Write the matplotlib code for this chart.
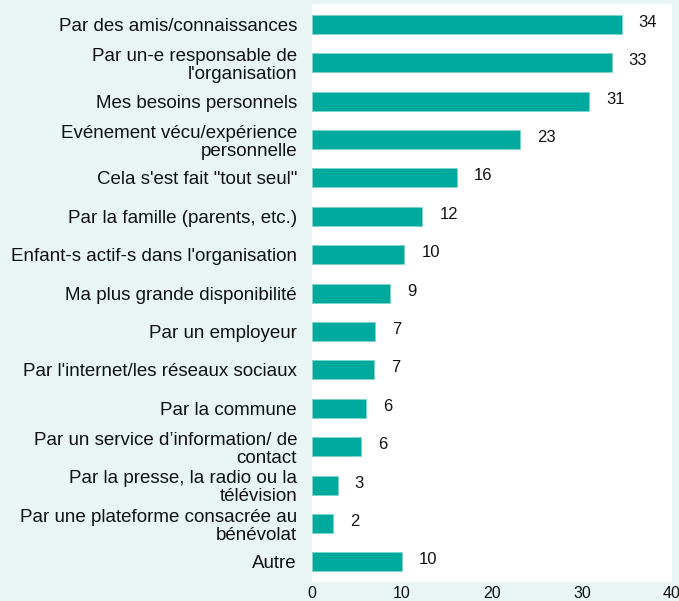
import matplotlib
matplotlib.use("Agg")
import matplotlib.pyplot as plt

# Données (pourcentages)
categories = [
    "Par des amis/connaissances",
    "Par un-e responsable de\nl'organisation",
    "Mes besoins personnels",
    "Evénement vécu/expérience\npersonnelle",
    "Cela s'est fait \"tout seul\"",
    "Par la famille (parents, etc.)",
    "Enfant-s actif-s dans l'organisation",
    "Ma plus grande disponibilité",
    "Par un employeur",
    "Par l'internet/les réseaux sociaux",
    "Par la commune",
    "Par un service d’information/ de\ncontact",
    "Par la presse, la radio ou la\ntélévision",
    "Par une plateforme consacrée au\nbénévolat",
    "Autre",
]
values = [34.4, 33.3, 30.8, 23.1, 16.1, 12.3, 10.3, 8.7, 7.0, 6.9, 6.0, 5.5, 2.9, 2.4, 10.0]
value_labels = ["34", "33", "31", "23", "16", "12", "10", "9", "7", "7", "6", "6", "3", "2", "10"]
x_ticks = [0, 10, 20, 30, 40]

plt.rcParams["font.family"] = ["Liberation Sans", "DejaVu Sans"]

bg = "#e9f5f5"
bar_color = "#00a99d"

fig = plt.figure(figsize=(6.79, 6.01), dpi=100, facecolor=bg)
ax = fig.add_axes([0.459, 0.0324, 0.5307, 0.9609])
ax.set_facecolor("white")

pos = list(range(len(categories)))
ax.barh(pos, values, height=0.495, color=bar_color, edgecolor="#7fd4cd", linewidth=0.6)

# Étiquettes de valeurs
for p, v, lab in zip(pos, values, value_labels):
    ax.annotate(lab, xy=(v, p), xytext=(12.2, 1.5), textcoords="offset points",
                ha="left", va="center", fontsize=12, color="#111111")

ax.set_xlim(0, 40)
ax.set_ylim(14.51, -0.53)
ax.set_xticks(x_ticks)
ax.set_xticklabels([str(t) for t in x_ticks], fontsize=11.5, color="#111111")
ax.set_yticks(pos)
ax.set_yticklabels(categories, fontsize=13.5, color="#111111", linespacing=1.1)
ax.tick_params(axis="y", length=0, pad=10.5)
ax.tick_params(axis="x", length=0, pad=3)
for s in ax.spines.values():
    s.set_visible(False)

fig.savefig("out.png", dpi=100, facecolor=bg)
plt.close()
